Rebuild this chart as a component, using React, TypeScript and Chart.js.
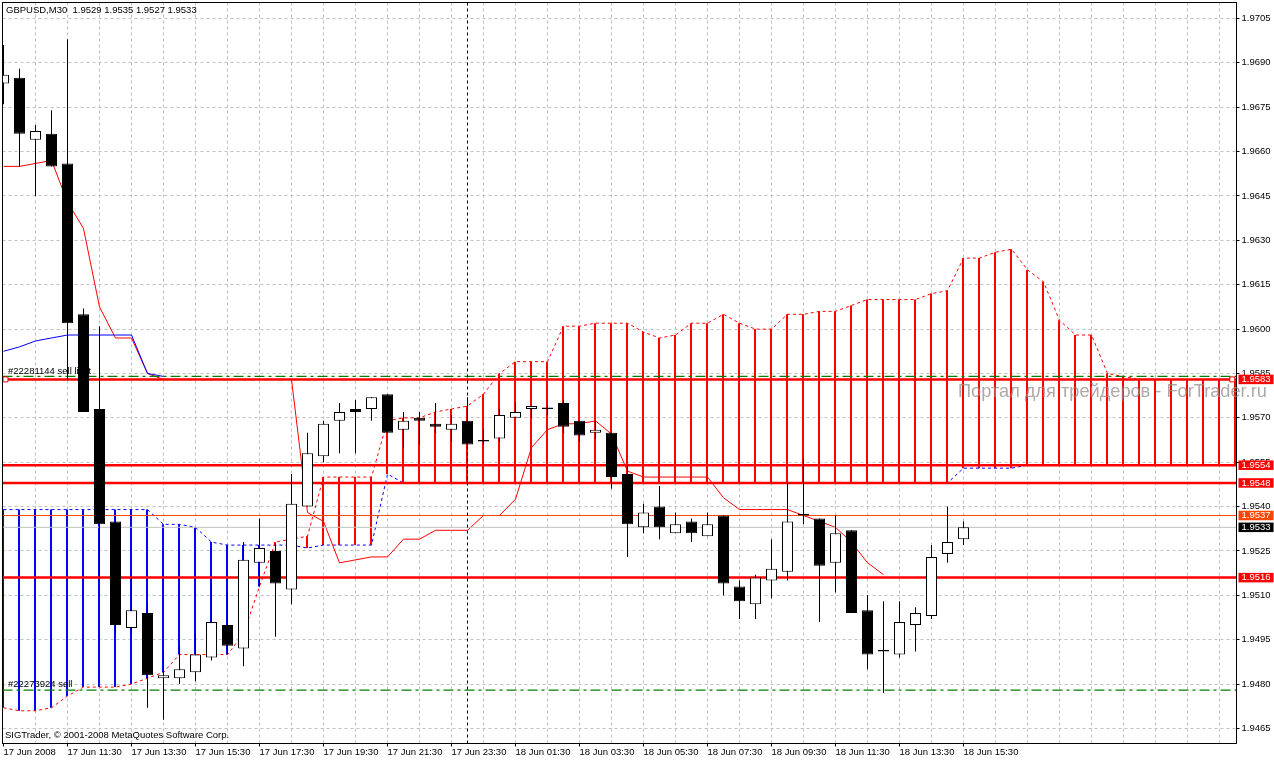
import React, { useEffect, useRef } from 'react';
import Chart from 'chart.js/auto';

// --- Candles (17-18 Jun 2008, M30), index 0 is the bar on the left edge ---
const opens = [
  1.9683, 1.9685, 1.9664, 1.9666, 1.9656, 1.9605, 1.9573, 1.9535, 1.9499, 1.9504,
  1.9482, 1.9482, 1.9484, 1.9489, 1.95, 1.9492, 1.9521, 1.9525, 1.9512, 1.954,
  1.9557, 1.9569, 1.9573, 1.9573, 1.9578, 1.9566, 1.957, 1.9568, 1.9566, 1.9569,
  1.9562, 1.9563, 1.957, 1.9573, 1.9573, 1.9575, 1.9569, 1.9565, 1.9565, 1.9551,
  1.9533, 1.954, 1.9531, 1.9535, 1.953, 1.9537, 1.9513, 1.9507, 1.9515, 1.9518,
  1.9537, 1.9536, 1.9521, 1.9532, 1.9505, 1.9491, 1.949, 1.95, 1.9503, 1.9524, 1.9529,
];
const highs = [
  1.9696, 1.9688, 1.9669, 1.9674, 1.9698, 1.9607, 1.9601, 1.9536, 1.9516, 1.9507,
  1.9491, 1.9493, 1.9497, 1.9514, 1.9511, 1.9528, 1.9536, 1.9527, 1.9551, 1.9565,
  1.9569, 1.9575, 1.9576, 1.9577, 1.9578, 1.9572, 1.9572, 1.9575, 1.9571, 1.9577,
  1.9566, 1.9573, 1.9575, 1.9574, 1.9574, 1.9576, 1.9569, 1.9569, 1.9565, 1.9554,
  1.9541, 1.9547, 1.9538, 1.9536, 1.9538, 1.9537, 1.9515, 1.9517, 1.9529, 1.9548,
  1.9556, 1.9536, 1.9537, 1.9532, 1.951, 1.9508, 1.9508, 1.9506, 1.9527, 1.954, 1.9535,
];
const lows = [
  1.9676, 1.9655, 1.9645, 1.9655, 1.9583, 1.9572, 1.9516, 1.9497, 1.9497, 1.9472,
  1.9468, 1.948, 1.9481, 1.9488, 1.949, 1.9486, 1.9513, 1.9496, 1.9507, 1.954,
  1.9555, 1.9558, 1.9558, 1.9569, 1.9565, 1.956, 1.9561, 1.9565, 1.9562, 1.9561,
  1.9561, 1.9562, 1.957, 1.957, 1.9571, 1.9565, 1.9562, 1.9563, 1.9546, 1.9523,
  1.9531, 1.9529, 1.9531, 1.9528, 1.953, 1.951, 1.9502, 1.9502, 1.9509, 1.9515,
  1.9534, 1.9501, 1.9511, 1.9504, 1.9485, 1.9477, 1.9489, 1.9491, 1.9502, 1.9521, 1.9527,
];
const closes = [
  1.9686, 1.9666, 1.9667, 1.9655, 1.9602, 1.9572, 1.9534, 1.95, 1.9505, 1.9483,
  1.9483, 1.9485, 1.949, 1.9501, 1.9493, 1.9522, 1.9526, 1.9514, 1.9541, 1.9558,
  1.9568, 1.9572, 1.9572, 1.9577, 1.9565, 1.9569, 1.9569, 1.9567, 1.9568, 1.9561,
  1.9562, 1.9571, 1.9572, 1.9574, 1.9573, 1.9567, 1.9564, 1.9566, 1.955, 1.9534,
  1.9538, 1.9533, 1.9534, 1.9531, 1.9534, 1.9514, 1.9508, 1.9516, 1.9519, 1.9535,
  1.9537, 1.952, 1.9531, 1.9504, 1.949, 1.9491, 1.9501, 1.9504, 1.9523, 1.9528, 1.9533,
];

// --- Ichimoku ---
const spanA = [
  1.9472, 1.9471, 1.9471, 1.9472, 1.9476, 1.9479, 1.9479, 1.9479, 1.948, 1.9482,
  1.9484, 1.949, 1.949, 1.949, 1.949, 1.9497, 1.9513, 1.9528, 1.9529, 1.953,
  1.955, 1.955, 1.955, 1.955, 1.9569, 1.957, 1.957, 1.9572, 1.9573, 1.9574,
  1.9578, 1.9585, 1.9589, 1.9589, 1.9589, 1.9601, 1.9601, 1.9602, 1.9602, 1.9602,
  1.9599, 1.9597, 1.9598, 1.9602, 1.9602, 1.9605, 1.9602, 1.96, 1.96, 1.9605,
  1.9605, 1.9606, 1.9606, 1.9608, 1.961, 1.961, 1.961, 1.961, 1.9612, 1.9613,
  1.9624, 1.9624, 1.9626, 1.9627, 1.962, 1.9616, 1.9603, 1.9598, 1.9598, 1.9585,
  1.9584, 1.9583, 1.9583, 1.9583, 1.9583, 1.9583, 1.9583, 1.9583,
];
const spanB = [
  1.9539, 1.9539, 1.9539, 1.9539, 1.9539, 1.9539, 1.9539, 1.9539, 1.9539, 1.9539,
  1.9534, 1.9534, 1.9533, 1.9528, 1.9527, 1.9527, 1.9527, 1.9527, 1.9527, 1.9526,
  1.9527, 1.9527, 1.9527, 1.9527, 1.9551, 1.9548, 1.9548, 1.9548, 1.9548, 1.9548,
  1.9548, 1.9548, 1.9548, 1.9548, 1.9548, 1.9548, 1.9548, 1.9548, 1.9548, 1.9548,
  1.9548, 1.9548, 1.9548, 1.9548, 1.9548, 1.9548, 1.9548, 1.9548, 1.9548, 1.9548,
  1.9548, 1.9548, 1.9548, 1.9548, 1.9548, 1.9548, 1.9548, 1.9548, 1.9548, 1.9548,
  1.9553, 1.9553, 1.9553, 1.9553, 1.9554, 1.9554, 1.9554, 1.9554, 1.9554, 1.9554,
  1.9554, 1.9554, 1.9554, 1.9554, 1.9554, 1.9554, 1.9554, 1.9554,
];
const tenkan = [
  1.9655, 1.9655, 1.9656, 1.9657, 1.9643, 1.9634, 1.96075, 1.9597, 1.9597, 1.9585,
  1.9583, 1.9583, 1.9583, 1.9583, 1.9583, 1.9583, 1.9583, 1.9583, 1.9583, 1.9538,
  1.9535, 1.9521, 1.9522, 1.9523, 1.9523, 1.9529, 1.9529, 1.9532, 1.9532, 1.9532,
  1.9537, 1.9537, 1.95425, 1.956, 1.9566, 1.9568, 1.9568, 1.9569, 1.95645, 1.9552,
  1.955, 1.955, 1.955, 1.955, 1.955, 1.9543, 1.9539, 1.9539, 1.9539, 1.9539,
  1.9537, 1.9535, 1.9533, 1.9528, 1.9521, 1.9517,
];
const kijun = [
  1.95925, 1.9594, 1.9596, 1.9597, 1.9598, 1.9598, 1.9598, 1.9598, 1.9598, 1.9585, 1.9584,
];

// --- Orders, price lines and axes ---
const redLevels = [1.9583, 1.9554, 1.9548, 1.9516];
const greenLevels = [1.9584, 1.9478];
const askLevel = 1.9537;
const bidLevel = 1.9533;
const priceTicks = [
  1.9705, 1.969, 1.9675, 1.966, 1.9645, 1.963, 1.9615, 1.96, 1.9585,
  1.957, 1.9555, 1.954, 1.9525, 1.951, 1.9495, 1.948, 1.9465,
];
const priceTags = [1.9583, 1.9554, 1.9548, 1.9516, 1.9537, 1.9533];
const priceTagColors = ['#ff0000', '#ff0000', '#ff0000', '#ff0000', '#ff4500', '#000000'];
const timeLabels = [
  '17 Jun 2008', '17 Jun 11:30', '17 Jun 13:30', '17 Jun 15:30',
  '17 Jun 17:30', '17 Jun 19:30', '17 Jun 21:30', '17 Jun 23:30',
  '18 Jun 01:30', '18 Jun 03:30', '18 Jun 05:30', '18 Jun 07:30',
  '18 Jun 09:30', '18 Jun 11:30', '18 Jun 13:30', '18 Jun 15:30',
];
const crosshairBar = 29;
const orderMarkBars = [0.125, 76.8];

const X_MIN = -0.0625;
const X_MAX = 77.0625;
const Y_MIN = 1.945993;
const Y_MAX = 1.97104;
// cloud bars sit half a pixel left of the candle wicks in the terminal
const CLOUD_NUDGE = 0.03125;
const UI_FONT = '"Liberation Sans", sans-serif';

const overlayPlugin = {
  id: 'overlay',
  afterDatasetsDraw(chart) {
    const { ctx, chartArea } = chart;
    ctx.save();
    // chart frame
    ctx.strokeStyle = '#000';
    ctx.lineWidth = 1;
    ctx.strokeRect(chartArea.left, chartArea.top, chartArea.right - chartArea.left, chartArea.bottom - chartArea.top);

    ctx.fillStyle = '#000';
    ctx.textAlign = 'left';
    ctx.textBaseline = 'alphabetic';
    ctx.font = `9.5px ${UI_FONT}`;
    ctx.fillText('GBPUSD,M30  1.9529 1.9535 1.9527 1.9533', 6, 13);
    ctx.fillText('#22281144 sell limit', 8, 374);
    ctx.fillText('#22273924 sell', 8, 687);
    ctx.fillText('SIGTrader, © 2001-2008 MetaQuotes Software Corp.', 5, 738);

    ctx.fillStyle = 'rgba(150, 138, 138, 0.75)';
    ctx.font = `18.2px ${UI_FONT}`;
    ctx.fillText('Портал для трейдеров - ForTrader.ru', 958, 397);
    ctx.restore();
  },
};

function flatLine(y, extra) {
  return {
    type: 'line',
    data: [{ x: X_MIN, y }, { x: X_MAX, y }],
    pointRadius: 0,
    borderWidth: 1,
    ...extra,
  };
}

function seriesLine(values, extra) {
  return {
    type: 'line',
    data: values.map((y, i) => ({ x: i, y })),
    pointRadius: 0,
    borderWidth: 1,
    tension: 0,
    ...extra,
  };
}

export default function App() {
  const canvasRef = useRef<HTMLCanvasElement>(null);

  useEffect(() => {
    if (!canvasRef.current) return;

    const datasets: any[] = [
      // crosshair on top of everything
      {
        type: 'line',
        data: [{ x: crosshairBar, y: Y_MIN }, { x: crosshairBar, y: Y_MAX }],
        pointRadius: 0,
        borderWidth: 1,
        borderColor: '#000',
        borderDash: [3, 3],
        order: 0,
      },
      {
        type: 'bar',
        data: opens.map((o, i) => ({ x: i, y: [o, closes[i]] })),
        backgroundColor: opens.map((o, i) => (closes[i] < o ? '#000' : '#fff')),
        borderColor: '#000',
        borderWidth: 1,
        borderSkipped: false,
        barThickness: 11,
        minBarLength: 1.6,
        inflateAmount: 0,
        grouped: false,
        order: 1,
      },
      {
        type: 'bar',
        data: highs.map((h, i) => ({ x: i, y: [lows[i], h] })),
        backgroundColor: '#000',
        borderWidth: 0,
        barThickness: 1,
        inflateAmount: 0,
        grouped: false,
        order: 2,
      },
      {
        type: 'line',
        data: orderMarkBars.map((x) => ({ x, y: redLevels[0] })),
        showLine: false,
        pointStyle: 'rect',
        pointRadius: 3.5,
        pointBackgroundColor: '#fff',
        pointBorderColor: '#ff0000',
        pointBorderWidth: 1,
        order: 2.5,
      },
      ...redLevels.map((y) => flatLine(y, { borderColor: '#ff0000', borderWidth: 2.5, order: 3 })),
      ...greenLevels.map((y) => flatLine(y, { borderColor: '#008000', borderWidth: 1.3, borderDash: [10, 4, 3, 4], order: 3 })),
      flatLine(askLevel, { borderColor: '#ff4500', order: 4 }),
      flatLine(bidLevel, { borderColor: '#c0c0c0', order: 4 }),
      seriesLine(kijun, { borderColor: '#0000ff', order: 5 }),
      seriesLine(tenkan, { borderColor: '#ff0000', order: 6 }),
      seriesLine(spanA, { borderColor: '#ff0000', borderDash: [3, 3], order: 7 }),
      seriesLine(spanB, { borderColor: '#0000ff', borderDash: [3, 3], order: 7 }),
      {
        type: 'bar',
        data: spanA.map((a, i) => ({ x: i - CLOUD_NUDGE, y: [a, spanB[i]] })),
        backgroundColor: spanA.map((a, i) => (spanB[i] > a ? '#0000ff' : '#ff0000')),
        borderWidth: 0,
        barThickness: 2,
        inflateAmount: 0,
        grouped: false,
        order: 8,
      },
    ];

    const chart = new Chart(canvasRef.current, {
      type: 'bar',
      data: { datasets },
      options: {
        animation: false,
        responsive: false,
        devicePixelRatio: 1,
        events: [],
        // autoPadding would push the chart area in to make room for the order marks
        layout: { autoPadding: false, padding: { left: 2.5, top: 2.5, right: 0, bottom: 0 } },
        plugins: { legend: { display: false }, tooltip: { enabled: false } },
        scales: {
          x: {
            type: 'linear',
            min: X_MIN,
            max: X_MAX,
            offset: false,
            afterBuildTicks(scale) {
              const ticks = [];
              for (let i = 0; i <= 76; i += 2) ticks.push({ value: i });
              scale.ticks = ticks;
            },
            afterFit(scale) {
              scale.height = 16.5;
              scale.paddingLeft = scale.paddingRight = scale.paddingTop = scale.paddingBottom = 0;
            },
            ticks: {
              autoSkip: false,
              maxRotation: 0,
              align: 'start',
              padding: 1,
              color: '#000',
              font: { family: UI_FONT, size: 9.5, lineHeight: 1 },
              callback: (value) => (value % 4 === 0 ? timeLabels[value / 4] ?? '' : ''),
            },
            grid: {
              offset: false,
              tickLength: 3,
              color: (c) => (c.tick && c.tick.value > 0 ? '#c0c0c0' : 'transparent'),
              tickColor: (c) => (c.tick && c.tick.value % 4 === 0 && c.tick.value <= 60 ? '#000' : 'transparent'),
            },
            border: { color: '#000', width: 1, dash: [3, 3] },
          },
          y: {
            type: 'linear',
            position: 'right',
            min: Y_MIN,
            max: Y_MAX,
            afterBuildTicks(scale) {
              scale.ticks = [...priceTicks, ...priceTags].map((value) => ({ value }));
            },
            afterFit(scale) {
              scale.width = 37.5;
              scale.paddingLeft = scale.paddingRight = scale.paddingTop = scale.paddingBottom = 0;
            },
            ticks: {
              autoSkip: false,
              padding: 2,
              crossAlign: 'near',
              font: { family: UI_FONT, size: 9.5, lineHeight: 1 },
              callback: (value) => Number(value).toFixed(4),
              color: (c) => (priceTags.includes(c.tick.value) ? '#fff' : '#000'),
              showLabelBackdrop: (c) => priceTags.includes(c.tick.value),
              backdropColor: (c) => priceTagColors[priceTags.indexOf(c.tick.value)] ?? 'transparent',
              backdropPadding: { left: 3, right: 3, top: 0, bottom: 0 },
            },
            grid: {
              tickLength: 3,
              color: (c) => (c.tick && !priceTags.includes(c.tick.value) ? '#c0c0c0' : 'transparent'),
              tickColor: (c) => (c.tick && !priceTags.includes(c.tick.value) ? '#000' : 'transparent'),
            },
            border: { color: '#000', width: 1, dash: [3, 3] },
          },
        },
      },
      plugins: [overlayPlugin],
    });

    return () => chart.destroy();
  }, []);

  return (
    <div style={{ position: 'fixed', left: 0, top: 0, width: 1274, height: 760, background: '#fff' }}>
      <canvas ref={canvasRef} width={1274} height={760} style={{ display: 'block' }} />
    </div>
  );
}
